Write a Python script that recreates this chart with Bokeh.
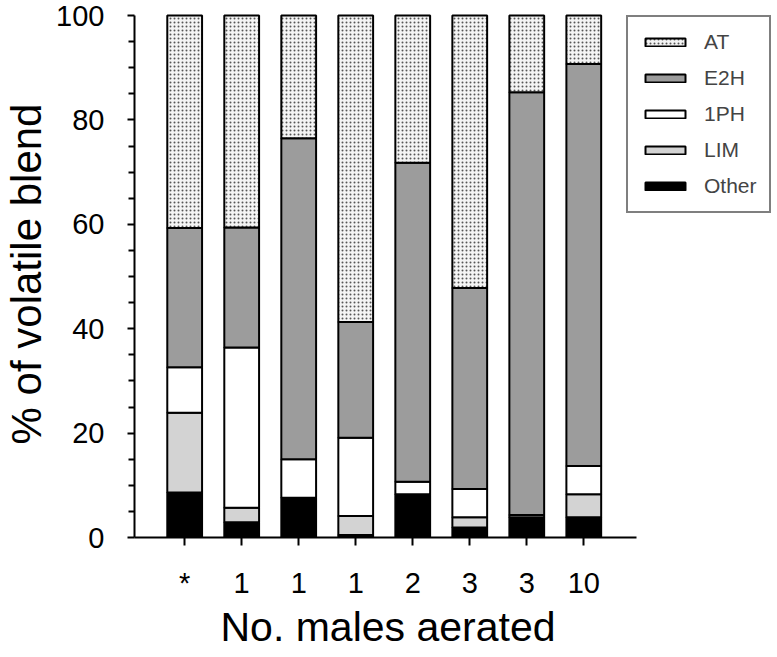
from bokeh.plotting import figure
from bokeh.models import ColumnDataSource, Legend, LegendItem, FixedTicker, Range1d, Title
from bokeh.embed import file_html
from bokeh.resources import INLINE

# ---- data ----
tick_labels = ["*", "1", "1", "1", "2", "3", "3", "10"]
x_pos = [1, 2, 3, 4, 5, 6, 7, 8]
other = [8.6, 2.9, 7.6, 0.5, 8.3, 1.9, 3.9, 3.9]
lim = [15.3, 2.8, 0.0, 3.6, 0.0, 2.0, 0.0, 4.4]
ph1 = [8.7, 30.7, 7.4, 15.0, 2.4, 5.4, 0.4, 5.4]
e2h = [26.7, 23.0, 61.5, 22.2, 61.1, 38.5, 81.0, 77.0]
at = [40.7, 40.6, 23.5, 58.7, 28.2, 52.2, 14.7, 9.3]
series_names = ["Other", "LIM", "1PH", "E2H", "AT"]
y_major = [0, 20, 40, 60, 80, 100]
y_minor = [5, 10, 15, 25, 30, 35, 45, 50, 55, 65, 70, 75, 85, 90, 95]

FONT = "Liberation Sans"

src = ColumnDataSource(dict(x=x_pos, Other=other, LIM=lim, **{"1PH": ph1}, E2H=e2h, AT=at))

p = figure(width=777, height=657, output_backend="svg", toolbar_location=None,
           x_range=Range1d(0.12, 11.31), y_range=Range1d(0, 100.96),
           min_border_left=133, min_border_right=5, min_border_top=10, min_border_bottom=120)
p.outline_line_color = None
p.grid.visible = False
p.background_fill_color = "white"

fills = ["black", "#d3d3d3", "white", "#9c9c9c", "#f4f4f4"]
hatches = [" ", " ", " ", " ", "dot"]
rends = p.vbar_stack(series_names, x="x", width=0.61, source=src,
                     fill_color=fills, line_color="black", line_width=2,
                     hatch_pattern=hatches, hatch_color="#555555", hatch_scale=4, hatch_weight=1)

items = [LegendItem(label=n, renderers=[r]) for n, r in zip(series_names, rends)][::-1]
legend = Legend(items=items, location=(492, 324), padding=12, spacing=10,
                label_height=26, glyph_height=10, glyph_width=50, label_standoff=14,
                label_text_font=FONT, label_text_font_size="21px",
                border_line_color="black", border_line_width=2,
                background_fill_alpha=1.0)
p.add_layout(legend)

# axes
p.xaxis.ticker = FixedTicker(ticks=x_pos)
p.xaxis.major_label_overrides = {x: l for x, l in zip(x_pos, tick_labels)}
p.xaxis.bounds = (0.12, 8.93)
p.xaxis.major_tick_out = 8
p.xaxis.major_tick_in = 0
p.yaxis.ticker = FixedTicker(ticks=y_major, minor_ticks=y_minor)
p.yaxis.bounds = (0, 100)
p.yaxis.major_tick_out = 7
p.yaxis.major_tick_in = 0
p.yaxis.minor_tick_out = 6
p.yaxis.minor_tick_in = 0
p.yaxis.axis_label = "% of volatile blend"

for ax in (p.xaxis[0], p.yaxis[0]):
    ax.axis_line_width = 2
    ax.axis_line_color = "black"
    ax.major_tick_line_width = 2
    ax.major_tick_line_color = "black"
    ax.minor_tick_line_width = 2
    ax.major_label_text_font = FONT
    ax.major_label_text_font_size = "29px"
    ax.major_label_text_color = "black"
    ax.axis_label_text_font = FONT
    ax.axis_label_text_font_style = "normal"
    ax.axis_label_text_color = "black"

p.xaxis.minor_tick_line_color = None
p.yaxis.minor_tick_line_color = "black"
p.xaxis.major_label_standoff = 21
p.yaxis.major_label_standoff = 23
p.yaxis.axis_label_text_font_size = "42px"
p.yaxis.axis_label_standoff = 3

xlabel = Title(text="No. males aerated", align="left", offset=86,
               text_font=FONT, text_font_size="41px", text_font_style="normal",
               text_color="black", standoff=0)
p.add_layout(xlabel, "below")

open("out.html", "w").write(file_html(p, INLINE))
